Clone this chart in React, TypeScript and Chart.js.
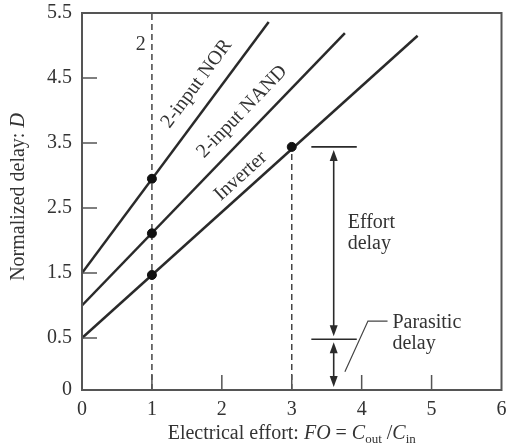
import React, { useEffect, useRef } from "react";
import { Chart, registerables } from "chart.js";

Chart.register(...registerables);

const FONT = '"Liberation Serif", "Times New Roman", serif';
const INK = "#2a2a2a";
const TEXT = "#333333";
const FRAME = "#555555";

// axis ticks
const xTickValues = [0, 1, 2, 3, 4, 5, 6];
const yTickValues = [-0.3, 0.5, 1.5, 2.5, 3.5, 4.5, 5.5];
const yTickLabels = ["0", "0.5", "1.5", "2.5", "3.5", "4.5", "5.5"];
const xMarkValues = [1, 2, 3, 4, 5];
const yMarkValues = [0.5, 1.5, 2.5, 3.5, 4.5];

// series
const norLine = [{ x: 0, y: 1.5 }, { x: 2.67, y: 5.36 }];
const nandLine = [{ x: 0, y: 1.0 }, { x: 3.76, y: 5.19 }];
const inverterLine = [{ x: 0, y: 0.5 }, { x: 4.8, y: 5.15 }];
const dots = [
  { x: 1, y: 2.95 },
  { x: 1, y: 2.11 },
  { x: 1, y: 1.47 },
  { x: 3, y: 3.44 },
];
const dashX1 = [{ x: 1, y: -0.3 }, { x: 1, y: 5.5 }];
const dashX3 = [{ x: 3, y: -0.3 }, { x: 3, y: 3.44 }];
const effortMark = [{ x: 3.28, y: 3.44 }, { x: 3.93, y: 3.44 }];
const parasiticMark = [{ x: 3.28, y: 0.48 }, { x: 3.93, y: 0.48 }];
const leader = [{ x: 3.76, y: -0.02 }, { x: 4.09, y: 0.76 }, { x: 4.37, y: 0.76 }];
const arrowX = 3.6;
const arrowLevels = [3.44, 0.48, -0.3];

// text annotations (data coordinates)
const lineLabels = [
  { text: "2-input NOR", x: 1.64, y: 4.41, line: norLine },
  { text: "2-input NAND", x: 2.29, y: 3.98, line: nandLine },
  { text: "Inverter", x: 2.27, y: 2.99, line: inverterLine },
];
const plainLabels = [
  { text: "2", x: 0.77, y: 4.93 },
  { text: "Effort", x: 3.8, y: 2.19 },
  { text: "delay", x: 3.8, y: 1.87 },
  { text: "Parasitic", x: 4.44, y: 0.654 },
  { text: "delay", x: 4.44, y: 0.33 },
];

const f = (size: number, italic = false) => `${italic ? "italic " : ""}${size}px ${FONT}`;

const decorPlugin = {
  id: "decor",
  afterDatasetsDraw(chart: any) {
    const ctx = chart.ctx;
    const xs = chart.scales.x;
    const ys = chart.scales.y;
    const { left, right, top, bottom } = chart.chartArea;
    ctx.save();
    // frame
    ctx.strokeStyle = FRAME;
    ctx.lineWidth = 2;
    ctx.strokeRect(left, top, right - left, bottom - top);
    // inward tick marks
    ctx.lineWidth = 1.5;
    ctx.beginPath();
    for (const v of xMarkValues) {
      const px = xs.getPixelForValue(v);
      ctx.moveTo(px, bottom);
      ctx.lineTo(px, bottom - 15);
    }
    for (const v of yMarkValues) {
      const py = ys.getPixelForValue(v);
      ctx.moveTo(left, py);
      ctx.lineTo(left + 15, py);
    }
    ctx.stroke();

    // arrows
    const ax = xs.getPixelForValue(arrowX);
    ctx.strokeStyle = INK;
    ctx.fillStyle = INK;
    ctx.lineWidth = 1.6;
    for (let i = 0; i < arrowLevels.length - 1; i++) {
      const y1 = ys.getPixelForValue(arrowLevels[i]) + 3;
      const y2 = ys.getPixelForValue(arrowLevels[i + 1]) - 3;
      ctx.beginPath();
      ctx.moveTo(ax, y1 + 8);
      ctx.lineTo(ax, y2 - 8);
      ctx.stroke();
      ctx.beginPath();
      ctx.moveTo(ax, y1);
      ctx.lineTo(ax - 4, y1 + 11);
      ctx.lineTo(ax + 4, y1 + 11);
      ctx.closePath();
      ctx.fill();
      ctx.beginPath();
      ctx.moveTo(ax, y2);
      ctx.lineTo(ax - 4, y2 - 11);
      ctx.lineTo(ax + 4, y2 - 11);
      ctx.closePath();
      ctx.fill();
    }

    // rotated line labels
    ctx.fillStyle = TEXT;
    ctx.font = f(20);
    ctx.textAlign = "center";
    ctx.textBaseline = "middle";
    for (const l of lineLabels) {
      const x1 = xs.getPixelForValue(l.line[0].x);
      const y1 = ys.getPixelForValue(l.line[0].y);
      const x2 = xs.getPixelForValue(l.line[1].x);
      const y2 = ys.getPixelForValue(l.line[1].y);
      const ang = Math.atan2(y2 - y1, x2 - x1);
      ctx.save();
      ctx.translate(xs.getPixelForValue(l.x), ys.getPixelForValue(l.y));
      ctx.rotate(ang);
      ctx.fillText(l.text, 0, 0);
      ctx.restore();
    }
    // plain labels
    ctx.textAlign = "left";
    ctx.textBaseline = "alphabetic";
    for (const l of plainLabels) {
      ctx.fillText(l.text, xs.getPixelForValue(l.x), ys.getPixelForValue(l.y));
    }
    ctx.restore();
  },
  afterDraw(chart: any) {
    const ctx = chart.ctx;
    const { left, right, top, bottom } = chart.chartArea;
    ctx.save();
    ctx.fillStyle = TEXT;
    ctx.textBaseline = "alphabetic";
    // x title with italics and subscripts
    const parts: { t: string; font: string; dy: number }[] = [
      { t: "Electrical effort: ", font: f(20), dy: 0 },
      { t: "FO", font: f(20, true), dy: 0 },
      { t: " = ", font: f(20), dy: 0 },
      { t: "C", font: f(20, true), dy: 0 },
      { t: "out", font: f(13), dy: 4 },
      { t: " /", font: f(20), dy: 0 },
      { t: "C", font: f(20, true), dy: 0 },
      { t: "in", font: f(13), dy: 4 },
    ];
    let total = 0;
    for (const p of parts) {
      ctx.font = p.font;
      total += ctx.measureText(p.t).width;
    }
    let cx = (left + right) / 2 - total / 2;
    const base = bottom + 49;
    ctx.textAlign = "left";
    for (const p of parts) {
      ctx.font = p.font;
      ctx.fillText(p.t, cx, base + p.dy);
      cx += ctx.measureText(p.t).width;
    }
    // y title
    const yparts = [
      { t: "Normalized delay: ", font: f(20) },
      { t: "D", font: f(20, true) },
    ];
    let ytotal = 0;
    for (const p of yparts) {
      ctx.font = p.font;
      ytotal += ctx.measureText(p.t).width;
    }
    ctx.translate(24, 197);
    ctx.rotate(-Math.PI / 2);
    let yx = -ytotal / 2;
    for (const p of yparts) {
      ctx.font = p.font;
      ctx.fillText(p.t, yx, 0);
      yx += ctx.measureText(p.t).width;
    }
    ctx.restore();
  },
};

const lineDs = (data: any[], extra: any = {}) => ({
  data,
  showLine: true,
  borderColor: INK,
  borderWidth: 2.5,
  pointRadius: 0,
  fill: false,
  order: 5,
  ...extra,
});

export default function App() {
  const ref = useRef<HTMLCanvasElement | null>(null);
  useEffect(() => {
    if (!ref.current) return;
    const chart = new Chart(ref.current, {
      type: "scatter",
      data: {
        datasets: [
          lineDs(dashX1, { borderWidth: 1.5, borderDash: [6, 4], borderColor: "#444", order: 8 }),
          lineDs(dashX3, { borderWidth: 1.5, borderDash: [6, 4], borderColor: "#444", order: 8 }),
          lineDs(norLine),
          lineDs(nandLine),
          lineDs(inverterLine),
          lineDs(effortMark, { borderWidth: 1.6 }),
          lineDs(parasiticMark, { borderWidth: 1.6 }),
          lineDs(leader, { borderWidth: 1.2, borderColor: "#444" }),
          {
            data: dots,
            pointRadius: 4.5,
            pointBackgroundColor: "#111",
            pointBorderColor: "#111",
            showLine: false,
            order: 0,
          },
        ],
      },
      options: {
        animation: false,
        responsive: false,
        events: [],
        layout: { padding: { left: 0, top: 13, right: 4, bottom: 0 } },
        plugins: { legend: { display: false }, tooltip: { enabled: false } },
        scales: {
          x: {
            type: "linear",
            min: 0,
            max: 6,
            grid: { display: false, drawTicks: false },
            border: { display: false },
            afterBuildTicks: (s: any) => {
              s.ticks = xTickValues.map((v) => ({ value: v }));
            },
            afterFit: (s: any) => {
              s.height = 58;
              s.paddingLeft = 0;
              s.paddingRight = 0;
            },
            ticks: {
              autoSkip: false,
              maxRotation: 0,
              padding: 8,
              color: TEXT,
              font: { family: FONT, size: 20 },
              callback: (v: any) => String(v),
            },
          },
          y: {
            type: "linear",
            min: -0.3,
            max: 5.5,
            grid: { display: false, drawTicks: false },
            border: { display: false },
            afterBuildTicks: (s: any) => {
              s.ticks = yTickValues.map((v) => ({ value: v }));
            },
            afterFit: (s: any) => {
              s.width = 82;
              s.paddingTop = 0;
              s.paddingBottom = 0;
            },
            ticks: {
              autoSkip: false,
              padding: 10,
              color: TEXT,
              font: { family: FONT, size: 20 },
              callback: (_v: any, i: number) => yTickLabels[i],
            },
          },
        },
      },
      plugins: [decorPlugin],
    } as any);
    return () => chart.destroy();
  }, []);
  return (
    <div style={{ position: "absolute", left: 0, top: 0, width: 507, height: 448, background: "#fff" }}>
      <canvas ref={ref} width={507} height={448} />
    </div>
  );
}
